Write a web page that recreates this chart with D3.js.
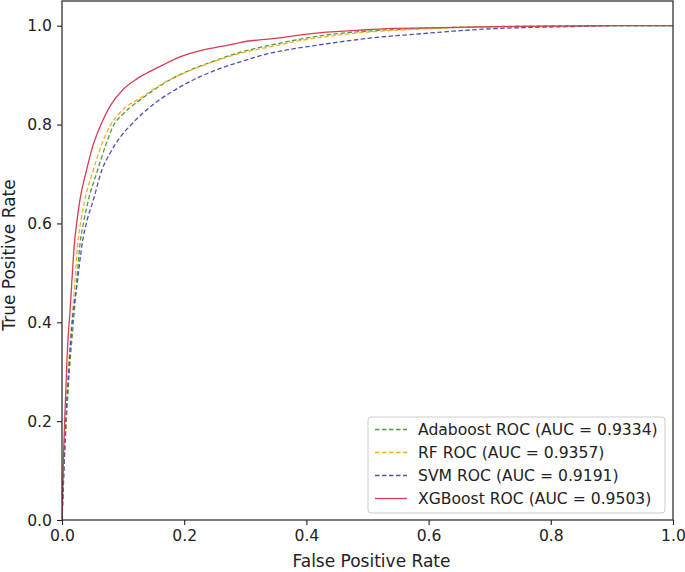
<!DOCTYPE html>
<html><head><meta charset="utf-8">
<script src="https://cdn.jsdelivr.net/npm/d3@7"></script>
<style>body{margin:0;background:#fff}svg{display:block}text{font-family:"DejaVu Sans",sans-serif;fill:#222}</style>
</head><body><svg id="c" width="685" height="572"></svg>
<script>
const seriesNames = ["Adaboost ROC (AUC = 0.9334)","RF ROC (AUC = 0.9357)","SVM ROC (AUC = 0.9191)","XGBoost ROC (AUC = 0.9503)"];
const seriesColors = ["#4e9c3c","#f5ad2a","#4a52ad","#d53f52"];
const seriesDashed = [true,true,true,false];
const xTicks = [0,0.2,0.4,0.6,0.8,1.0];
const yTicks = [0,0.2,0.4,0.6,0.8,1.0];
const adaboost = [[0,0],[0.002,0.07],[0.005,0.15],[0.008,0.22],[0.012,0.30],[0.0185,0.398],[0.024,0.48],[0.0295,0.559],[0.036,0.606],[0.043,0.646],[0.058,0.707],[0.072,0.76],[0.085,0.80],[0.097,0.818],[0.11,0.833],[0.128,0.850],[0.155,0.874],[0.182,0.894],[0.209,0.910],[0.25,0.929],[0.28,0.942],[0.32,0.955],[0.362,0.966],[0.40,0.975],[0.444,0.983],[0.526,0.991],[0.6,0.995],[0.662,0.997],[0.75,0.999],[0.9,1],[1,1]];
const rf = [[0,0],[0.002,0.08],[0.004,0.15],[0.007,0.22],[0.010,0.30],[0.016,0.398],[0.021,0.48],[0.0257,0.559],[0.031,0.606],[0.037,0.646],[0.051,0.707],[0.065,0.76],[0.080,0.80],[0.092,0.82],[0.105,0.836],[0.128,0.853],[0.155,0.876],[0.182,0.894],[0.209,0.909],[0.25,0.928],[0.291,0.944],[0.34,0.957],[0.39,0.970],[0.44,0.979],[0.499,0.987],[0.55,0.991],[0.62,0.995],[0.7,0.998],[0.8,0.999],[0.9,1],[1,1]];
const svm = [[0,0],[0.002,0.06],[0.006,0.2],[0.010,0.28],[0.016,0.39],[0.025,0.48],[0.033,0.559],[0.041,0.606],[0.051,0.646],[0.065,0.707],[0.080,0.745],[0.095,0.774],[0.111,0.797],[0.128,0.818],[0.155,0.846],[0.182,0.868],[0.226,0.897],[0.26,0.914],[0.297,0.929],[0.33,0.941],[0.368,0.951],[0.42,0.961],[0.471,0.970],[0.52,0.977],[0.580,0.983],[0.63,0.988],[0.689,0.993],[0.75,0.996],[0.826,0.998],[0.9,1.0],[1,1]];
const xgboost = [[0,0],[0.001,0.05],[0.003,0.15],[0.005,0.22],[0.008,0.32],[0.010,0.37],[0.013,0.42],[0.017,0.50],[0.020,0.555],[0.024,0.60],[0.029,0.645],[0.040,0.707],[0.050,0.755],[0.061,0.792],[0.080,0.84],[0.100,0.871],[0.122,0.892],[0.145,0.908],[0.171,0.924],[0.193,0.937],[0.231,0.951],[0.270,0.960],[0.291,0.966],[0.345,0.974],[0.417,0.985],[0.488,0.991],[0.531,0.994],[0.62,0.996],[0.717,0.998],[0.8,0.999],[0.9,1.0],[1,1]];
const allSeries = [adaboost, rf, svm, xgboost];

const svg = d3.select("#c");
const L=62, R=673, T=1, B=520;
const x = d3.scaleLinear().domain([0,1]).range([L,R]);
const y = d3.scaleLinear().domain([0,1.05]).range([B,T]);
const fs = 15.6, lfs = 17;

const line = d3.line().curve(d3.curveMonotoneX).x(d=>x(d[0])).y(d=>y(d[1]));
const plot = svg.append("g");
plot.append("clipPath").attr("id","clip").append("rect").attr("x",L).attr("y",T).attr("width",R-L).attr("height",B-T);
const lg = plot.append("g").attr("clip-path","url(#clip)");
allSeries.forEach((s,i)=>{
  lg.append("path").datum(s).attr("d",line).attr("fill","none")
    .attr("stroke",seriesColors[i]).attr("stroke-width",1.3)
    .attr("stroke-dasharray",seriesDashed[i]?"4.5,2.5":null);
});

const xa = svg.append("g").attr("transform",`translate(0,${B})`)
  .call(d3.axisBottom(x).tickValues(xTicks).tickFormat(d3.format(".1f")).tickSizeOuter(0).tickSize(5).tickPadding(5));
const ya = svg.append("g").attr("transform",`translate(${L},0)`)
  .call(d3.axisLeft(y).tickValues(yTicks).tickFormat(d3.format(".1f")).tickSizeOuter(0).tickSize(5).tickPadding(5));
[xa,ya].forEach(a=>{
  a.select(".domain").remove();
  a.selectAll("line").attr("stroke","#222").attr("stroke-width",1.1);
  a.selectAll("text").attr("font-size",fs).attr("font-family","DejaVu Sans").attr("fill","#222");
});
svg.append("rect").attr("x",L).attr("y",T).attr("width",R-L).attr("height",B-T)
  .attr("fill","none").attr("stroke","#222").attr("stroke-width",1.2);

svg.append("text").attr("x",(L+R)/2+4).attr("y",567).attr("text-anchor","middle").attr("font-size",lfs).text("False Positive Rate");
svg.append("text").attr("transform",`translate(15,255) rotate(-90)`).attr("text-anchor","middle").attr("font-size",lfs).text("True Positive Rate");

const leg = svg.append("g");
leg.append("rect").attr("x",368).attr("y",417).attr("width",297).attr("height",96).attr("rx",3)
  .attr("fill","#fff").attr("fill-opacity",0.85).attr("stroke","#ccc").attr("stroke-width",1);
seriesNames.forEach((n,i)=>{
  const yy = 429.5 + i*23;
  leg.append("line").attr("x1",375).attr("x2",407).attr("y1",yy).attr("y2",yy)
    .attr("stroke",seriesColors[i]).attr("stroke-width",1.3)
    .attr("stroke-dasharray",seriesDashed[i]?"4.5,2.5":null);
  leg.append("text").attr("x",418).attr("y",yy+5.5).attr("font-size",fs).text(n);
});
</script></body></html>
